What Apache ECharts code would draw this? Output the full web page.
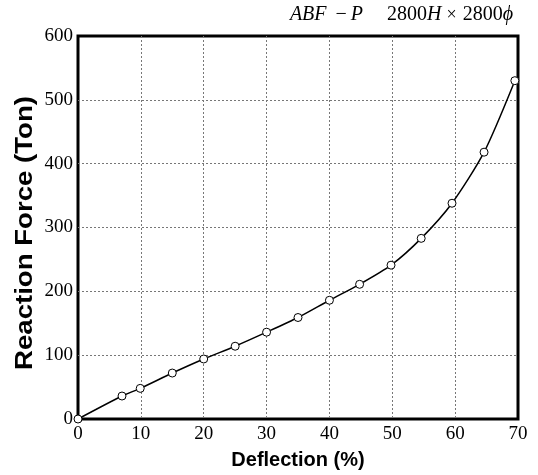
<!DOCTYPE html>
<html>
<head>
<meta charset="utf-8">
<script src="https://cdn.jsdelivr.net/npm/echarts@6/dist/echarts.min.js"></script>
<style>
  html, body { margin: 0; padding: 0; background: #fff; }
  #chart { width: 538px; height: 475px; }
</style>
</head>
<body>
<div id="chart"></div>
<script>
// Reaction force of the fender against its deflection
const deflection = [0, 7, 9.9, 15, 20, 25, 30, 35, 40, 44.8, 49.8, 54.6, 59.5, 64.6, 69.5];
const reactionForce = [0, 36, 48, 72, 94, 114, 136, 159, 186, 211, 241, 283, 338, 418, 530];
const xTicks = [0, 10, 20, 30, 40, 50, 60, 70];
const yTicks = [0, 100, 200, 300, 400, 500, 600];

const serif = '"Liberation Serif", "DejaVu Serif", serif';
const sans = '"Liberation Sans", Arial, sans-serif';

const chart = echarts.init(document.getElementById('chart'), null, { renderer: 'canvas' });

const gridLine = { show: true, showMinLine: false, showMaxLine: false,
  lineStyle: { color: '#777', type: [2, 2], width: 1 } };

chart.setOption({
  backgroundColor: '#fff',
  animation: false,
  grid: {
    left: 78, right: 20, top: 36, bottom: 47,
    show: true, borderColor: '#000', borderWidth: 3, backgroundColor: 'transparent'
  },
  xAxis: {
    type: 'value',
    min: xTicks[0], max: xTicks[xTicks.length - 1], interval: 10,
    axisLine: { show: false },
    axisTick: { show: false },
    axisLabel: { color: '#000', fontFamily: serif, fontSize: 19, margin: 6 },
    splitLine: gridLine,
    name: 'Deflection (%)',
    nameLocation: 'middle',
    nameGap: 31,
    nameTextStyle: { color: '#000', fontFamily: sans, fontWeight: 'bold', fontSize: 20 }
  },
  yAxis: {
    type: 'value',
    min: yTicks[0], max: yTicks[yTicks.length - 1], interval: 100,
    axisLine: { show: false },
    axisTick: { show: false },
    axisLabel: { color: '#000', fontFamily: serif, fontSize: 19, margin: 5 },
    splitLine: gridLine
  },
  graphic: [
    {
      type: 'text',
      x: 26, y: 233,
      rotation: Math.PI / 2,
      scaleX: 1.2,
      style: {
        text: 'Reaction Force (Ton)',
        font: 'bold 23px ' + sans,
        fill: '#000',
        align: 'center',
        verticalAlign: 'middle'
      }
    },
    {
      type: 'text',
      right: 25, top: 5,
      style: {
        text: '{i|ABF}{m|−}{i|P}{n|2800}{i|H}{x|×}{u|2800}{i|ϕ}',
        rich: {
          i: { fontFamily: serif, fontStyle: 'italic', fontSize: 20, fill: '#000' },
          u: { fontFamily: serif, fontSize: 20, fill: '#000' },
          m: { fontFamily: serif, fontSize: 20, fill: '#000', padding: [0, 4, 0, 9] },
          n: { fontFamily: serif, fontSize: 20, fill: '#000', padding: [0, 0, 0, 24] },
          x: { fontFamily: serif, fontSize: 18, fill: '#000', padding: [0, 6, 0, 5] }
        }
      }
    }
  ],
  series: [{
    type: 'line',
    data: deflection.map((d, i) => [d, reactionForce[i]]),
    smooth: 0.25,
    symbol: 'circle',
    symbolSize: 8,
    lineStyle: { color: '#000', width: 1.5 },
    itemStyle: { color: '#fff', borderColor: '#000', borderWidth: 1 },
    z: 5
  }]
});
</script>
</body>
</html>
